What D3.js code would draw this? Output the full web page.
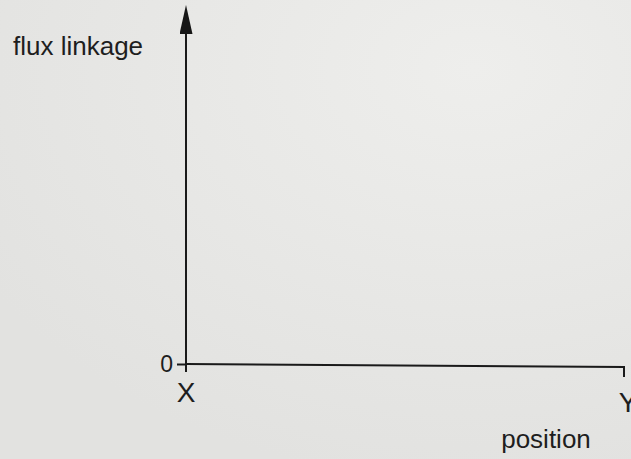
<!DOCTYPE html>
<html>
<head>
<meta charset="utf-8">
<script src="https://cdn.jsdelivr.net/npm/d3@7"></script>
<style>
  html, body { margin: 0; padding: 0; background: #e7e7e5; }
  svg { display: block; }
  text { font-family: "Liberation Sans", Arial, sans-serif; fill: #1e1e1e; }
</style>
</head>
<body>
<div id="vis"></div>
<script>
// chart content
var yTitle = ['flux linkage'];
var xTitle = ['position'];
var yTickValues = [0];
var yTickLabels = ['0'];
var endPositions = [0, 1];
var endLabels = ['X', 'Y'];

var width = 631;
var height = 459;
var margin = { top: 33, right: 7, bottom: 95, left: 186 };

var svg = d3.select('#vis')
  .append('svg')
  .attr('width', width)
  .attr('height', height);

// paper background, slightly lighter at the top right
var defs = svg.append('defs');
var grad = defs.append('radialGradient')
  .attr('id', 'paper')
  .attr('cx', '75%').attr('cy', '15%').attr('r', '90%');
grad.append('stop').attr('offset', '0%').attr('stop-color', '#eeeeec');
grad.append('stop').attr('offset', '100%').attr('stop-color', '#e2e2e0');
svg.append('rect')
  .attr('width', width).attr('height', height)
  .attr('fill', 'url(#paper)');

// arrow head, pointing along the line direction
var marker = defs.append('marker')
  .attr('id', 'arrow')
  .attr('viewBox', '0 0 29 13')
  .attr('refX', 1).attr('refY', 6.5)
  .attr('markerUnits', 'userSpaceOnUse')
  .attr('markerWidth', 29).attr('markerHeight', 13)
  .attr('orient', 'auto');
marker.append('path')
  .attr('d', 'M0,0 L29,6.5 L0,13 Z')
  .attr('fill', '#161616');

var x = d3.scaleLinear().domain([0, 1]).range([margin.left, width - margin.right]);
var y = d3.scaleLinear().domain([0, 1]).range([height - margin.bottom, margin.top]);

// y axis (vertical line with arrow), running a little below the origin
svg.append('line')
  .attr('x1', x(0)).attr('x2', x(0))
  .attr('y1', y(0) + 8).attr('y2', y(1))
  .attr('stroke', '#1a1a1a')
  .attr('stroke-width', 2)
  .attr('marker-end', 'url(#arrow)');

// x axis with a small downward tick at its end
svg.append('path')
  .attr('d', 'M' + x(0) + ',' + y(0) + ' L' + x(1) + ',' + (y(0) + 3) + ' L' + x(1) + ',' + (y(0) + 13))
  .attr('fill', 'none')
  .attr('stroke', '#1a1a1a')
  .attr('stroke-width', 2);

// zero tick on the y axis
var yAxis = d3.axisLeft(y)
  .tickValues(yTickValues)
  .tickFormat(function(d, i) { return yTickLabels[i]; })
  .tickSize(9)
  .tickPadding(4);

var gy = svg.append('g')
  .attr('transform', 'translate(' + x(0) + ',0)')
  .call(yAxis);
gy.select('.domain').remove();
gy.selectAll('.tick line').attr('stroke', '#1a1a1a').attr('stroke-width', 2);
gy.selectAll('.tick text')
  .attr('font-size', 23)
  .attr('fill', '#1e1e1e')
  .attr('font-family', '"Liberation Sans", Arial, sans-serif');

// end labels X and Y under the x axis
svg.selectAll('.end-label')
  .data(endPositions)
  .enter().append('text')
  .attr('class', 'end-label')
  .attr('x', function(d) { return x(d) + (d === 1 ? 4 : 0); })
  .attr('y', function(d) { return y(0) + 38 + d * 10; })
  .attr('text-anchor', 'middle')
  .attr('font-size', 28)
  .text(function(d, i) { return endLabels[i]; });

// axis titles
svg.append('text')
  .attr('x', 13)
  .attr('y', 55)
  .attr('font-size', 26)
  .text(yTitle[0]);

svg.append('text')
  .attr('x', 546)
  .attr('y', 448)
  .attr('text-anchor', 'middle')
  .attr('font-size', 26)
  .text(xTitle[0]);
</script>
</body>
</html>
